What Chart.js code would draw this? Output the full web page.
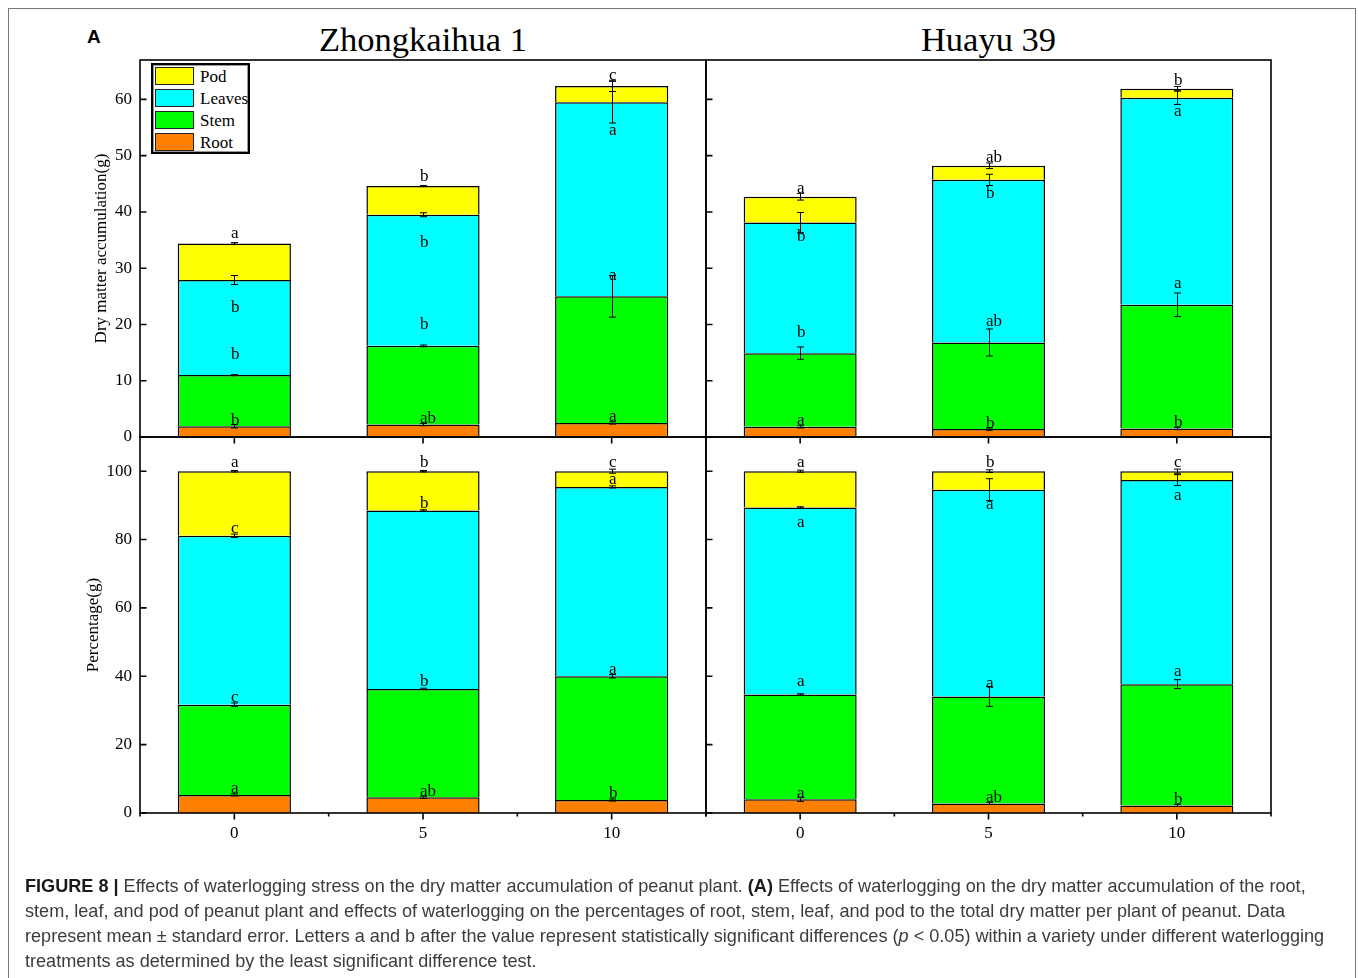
<!DOCTYPE html>
<html>
<head>
<meta charset="utf-8">
<title>Dry matter accumulation of peanut under waterlogging</title>
<script src="https://cdn.jsdelivr.net/npm/chart.js@4.4.1/dist/chart.umd.min.js"></script>
<style>
  html, body { margin: 0; padding: 0; background: #fff; }
  body { position: relative; width: 1358px; height: 978px; overflow: hidden; }
  .frame { position: absolute; left: 8px; top: 8px; width: 1346px; height: 1000px;
           border: 1.5px solid #777; border-bottom: none; }
  canvas.panel { position: absolute; left: 0; top: 0; }
  .tag { position: absolute; left: 87px; top: 26px; font: bold 19px "Liberation Sans", Arial, sans-serif; color: #000; }
  .ptitle { position: absolute; top: 20px; height: 44px; line-height: 44px; text-align: center;
            font: 34.5px "Liberation Serif", "Times New Roman", serif; color: #000; }
  #legend { position: absolute; left: 151px; top: 63px; width: 95px; height: 87px;
            border: 2px solid #000; box-shadow: inset 0 0 0 1px #999; background: #fff; z-index: 5; }
  #legend .row { position: absolute; left: 2px; height: 19px; }
  #legend .sw { position: absolute; left: 0; top: 0; width: 37px; height: 16px; border: 1.5px solid #222; }
  #legend .lb { position: absolute; left: 45px; top: -1px; font: 17px "Liberation Serif", "Times New Roman", serif;
                color: #000; white-space: nowrap; line-height: 22px; }
  .caption { position: absolute; left: 25px; top: 874px; width: 1320px;
             font: 18.1px "Liberation Sans", Arial, sans-serif; line-height: 25px; color: #3c3c3c; white-space: nowrap; }
  .caption b { color: #1a1a1a; }
</style>
</head>
<body>
<div class="frame"></div>
<div class="tag">A</div>
<div class="ptitle" style="left:140px;width:566px;">Zhongkaihua 1</div>
<div class="ptitle" style="left:706px;width:565px;">Huayu 39</div>
<div id="legend"></div>

<canvas class="panel" id="zkDry" width="1358" height="978"></canvas>
<canvas class="panel" id="hyDry" width="1358" height="978"></canvas>
<canvas class="panel" id="zkPct" width="1358" height="978"></canvas>
<canvas class="panel" id="hyPct" width="1358" height="978"></canvas>

<div class="caption">
<b>FIGURE 8 |</b> Effects of waterlogging stress on the dry matter accumulation of peanut plant. <b>(A)</b> Effects of waterlogging on the dry matter accumulation of the root,<br>
stem, leaf, and pod of peanut plant and effects of waterlogging on the percentages of root, stem, leaf, and pod to the total dry matter per plant of peanut. Data<br>
represent mean ± standard error. Letters a and b after the value represent statistically significant differences (<i>p</i> &lt; 0.05) within a variety under different waterlogging<br>
treatments as determined by the least significant difference test.
</div>

<script>
// Waterlogging duration (days) and plant organs, bottom of the stack first
const treatments = ['0', '5', '10'];
const organs = ['Root', 'Stem', 'Leaves', 'Pod'];
const organColors = ['#FF8000', '#00FF00', '#00FFFF', '#FFFF00'];

// Zhongkaihua 1: dry matter accumulation (g per plant)
const zkDryRoot   = [1.9, 2.2, 2.5];
const zkDryStem   = [9.1, 14.0, 22.5];
const zkDryLeaves = [16.9, 23.3, 34.5];
const zkDryPod    = [6.5, 5.1, 2.9];
const zkDryRootSE   = [0.3, 0.2, 0.2];
const zkDryStemSE   = [0.1, 0.15, 3.7];
const zkDryLeavesSE = [0.8, 0.35, 3.7];
const zkDryPodSE    = [0.15, 0.1, 1.0];
const zkDryRootSig   = ['b', 'ab', 'a'];
const zkDryStemSig   = ['b', 'b', 'a'];
const zkDryLeavesSig = ['b', 'b', 'a'];
const zkDryPodSig    = ['a', 'b', 'c'];

// Huayu 39: dry matter accumulation (g per plant)
const hyDryRoot   = [1.8, 1.4, 1.5];
const hyDryStem   = [13.1, 15.4, 22.0];
const hyDryLeaves = [23.2, 28.9, 36.8];
const hyDryPod    = [4.6, 2.5, 1.6];
const hyDryRootSE   = [0.2, 0.2, 0.2];
const hyDryStemSE   = [1.1, 2.4, 2.1];
const hyDryLeavesSE = [1.8, 1.0, 1.2];
const hyDryPodSE    = [0.6, 0.5, 0.4];
const hyDryRootSig   = ['a', 'b', 'b'];
const hyDryStemSig   = ['b', 'ab', 'a'];
const hyDryLeavesSig = ['b', 'b', 'a'];
const hyDryPodSig    = ['a', 'ab', 'b'];

// Zhongkaihua 1: share of total dry matter (%)
const zkPctRoot   = [5.3, 4.6, 3.8];
const zkPctStem   = [26.4, 31.7, 36.2];
const zkPctLeaves = [49.4, 52.2, 55.4];
const zkPctPod    = [18.9, 11.5, 4.6];
const zkPctRootSE   = [0.3, 0.3, 0.3];
const zkPctStemSE   = [0.5, 0.2, 0.5];
const zkPctLeavesSE = [0.5, 0.2, 0.3];
const zkPctPodSE    = [0.2, 0.2, 0.6];
const zkPctRootSig   = ['a', 'ab', 'b'];
const zkPctStemSig   = ['c', 'b', 'a'];
const zkPctLeavesSig = ['c', 'b', 'a'];
const zkPctPodSig    = ['a', 'b', 'c'];

// Huayu 39: share of total dry matter (%)
const hyPctRoot   = [4.0, 2.8, 2.2];
const hyPctStem   = [30.7, 31.3, 35.5];
const hyPctLeaves = [54.7, 60.5, 59.7];
const hyPctPod    = [10.6, 5.4, 2.6];
const hyPctRootSE   = [0.6, 0.3, 0.3];
const hyPctStemSE   = [0.2, 2.9, 1.3];
const hyPctLeavesSE = [0.2, 3.2, 1.6];
const hyPctPodSE    = [0.3, 0.4, 0.6];
const hyPctRootSig   = ['a', 'ab', 'b'];
const hyPctStemSig   = ['a', 'a', 'a'];
const hyPctLeavesSig = ['a', 'a', 'a'];
const hyPctPodSig    = ['a', 'b', 'c'];

const dryTicks = [0, 10, 20, 30, 40, 50, 60];
const pctTicks = [0, 20, 40, 60, 80, 100];

const SERIF = '"Liberation Serif", "Times New Roman", serif';
const W = 1358, H = 978;

// Panel layout: plot rectangles in page pixels, plus where each letter sits relative to its segment top
const panels = [
  { id: 'zkDry', left: 140, right: 706, top: 60, bottom: 437, max: 67, ticks: dryTicks,
    yTitle: 'Dry matter accumulation(g)', titlePad: 31, yLabels: true, xLabels: false,
    values: [zkDryRoot, zkDryStem, zkDryLeaves, zkDryPod],
    se: [zkDryRootSE, zkDryStemSE, zkDryLeavesSE, zkDryPodSE],
    sig: [zkDryRootSig, zkDryStemSig, zkDryLeavesSig, zkDryPodSig],
    letterShift: [-6, -21, 28, -10] },
  { id: 'hyDry', left: 706, right: 1271, top: 60, bottom: 437, max: 67, ticks: dryTicks,
    yTitle: '', titlePad: 0, yLabels: false, xLabels: false,
    values: [hyDryRoot, hyDryStem, hyDryLeaves, hyDryPod],
    se: [hyDryRootSE, hyDryStemSE, hyDryLeavesSE, hyDryPodSE],
    sig: [hyDryRootSig, hyDryStemSig, hyDryLeavesSig, hyDryPodSig],
    letterShift: [-6, -21, 14, -8] },
  { id: 'zkPct', left: 140, right: 706, top: 437, bottom: 813, max: 110, ticks: pctTicks,
    yTitle: 'Percentage(g)', titlePad: 23, yLabels: true, xLabels: true,
    values: [zkPctRoot, zkPctStem, zkPctLeaves, zkPctPod],
    se: [zkPctRootSE, zkPctStemSE, zkPctLeavesSE, zkPctPodSE],
    sig: [zkPctRootSig, zkPctStemSig, zkPctLeavesSig, zkPctPodSig],
    letterShift: [-6, -7, -7, -9] },
  { id: 'hyPct', left: 706, right: 1271, top: 437, bottom: 813, max: 110, ticks: pctTicks,
    yTitle: '', titlePad: 0, yLabels: false, xLabels: true,
    values: [hyPctRoot, hyPctStem, hyPctLeaves, hyPctPod],
    se: [hyPctRootSE, hyPctStemSE, hyPctLeavesSE, hyPctPodSE],
    sig: [hyPctRootSig, hyPctStemSig, hyPctLeavesSig, hyPctPodSig],
    letterShift: [-6, -13, 15, -9] }
];

// Legend, top entry first (Pod ... Root)
(function buildLegend() {
  const box = document.getElementById('legend');
  for (let k = 0; k < organs.length; k++) {
    const i = organs.length - 1 - k;
    const row = document.createElement('div');
    row.className = 'row';
    row.style.top = (2 + k * 22) + 'px';
    const sw = document.createElement('div');
    sw.className = 'sw';
    sw.style.background = organColors[i];
    const lb = document.createElement('div');
    lb.className = 'lb';
    lb.textContent = organs[i];
    row.appendChild(sw);
    row.appendChild(lb);
    box.appendChild(row);
  }
})();

// Error bars, significance letters, frame and tick marks
const decor = {
  id: 'decor',
  afterDatasetsDraw(chart, args, opts) {
    const p = opts.panel;
    const { ctx } = chart;
    const y = chart.scales.y;
    ctx.save();
    ctx.strokeStyle = '#000';
    ctx.fillStyle = '#000';
    ctx.lineWidth = 1;
    ctx.font = '17px ' + SERIF;
    ctx.textAlign = 'left';
    ctx.textBaseline = 'middle';
    for (let j = 0; j < treatments.length; j++) {
      let cum = 0;
      p.values.forEach((vals, i) => {
        cum += vals[j];
        const bx = Math.round(chart.getDatasetMeta(i).data[j].x) + 0.5;
        const yc = y.getPixelForValue(cum);
        const yHi = y.getPixelForValue(cum + p.se[i][j]);
        const yLo = y.getPixelForValue(cum - p.se[i][j]);
        ctx.beginPath();
        ctx.moveTo(bx, yHi); ctx.lineTo(bx, yLo);
        ctx.moveTo(bx - 3.5, yHi); ctx.lineTo(bx + 3.5, yHi);
        ctx.moveTo(bx - 3.5, yLo); ctx.lineTo(bx + 3.5, yLo);
        ctx.stroke();
        ctx.fillText(p.sig[i][j], bx - 3.5, yc + p.letterShift[i]);
      });
    }
    ctx.restore();
  },
  afterDraw(chart, args, opts) {
    const p = opts.panel;
    const { ctx, chartArea: a } = chart;
    const x = chart.scales.x, y = chart.scales.y;
    ctx.save();
    ctx.strokeStyle = '#000';
    ctx.lineWidth = 1.6;
    ctx.strokeRect(a.left, a.top, a.right - a.left, a.bottom - a.top);
    ctx.beginPath();
    // inward ticks on the left edge
    p.ticks.forEach(v => {
      const ty = y.getPixelForValue(v);
      ctx.moveTo(a.left, ty); ctx.lineTo(a.left + 6.5, ty);
    });
    // outward ticks below the plot
    for (let j = 0; j < treatments.length; j++) {
      const tx = x.getPixelForValue(j);
      ctx.moveTo(tx, a.bottom); ctx.lineTo(tx, a.bottom + 6.5);
    }
    if (p.xLabels) {
      for (let j = 0; j <= treatments.length; j++) {
        const tx = x.getPixelForValue(j - 0.5);
        ctx.moveTo(tx, a.bottom); ctx.lineTo(tx, a.bottom + 3.5);
      }
    }
    ctx.stroke();
    ctx.restore();
  }
};

Chart.defaults.font.family = SERIF;
Chart.defaults.color = '#000';

panels.forEach(p => {
  const yWidth = p.yLabels ? 80 : 0;
  const xHeight = p.xLabels ? 30 : 0;
  new Chart(document.getElementById(p.id), {
    type: 'bar',
    data: {
      labels: treatments,
      datasets: organs.map((name, i) => ({
        label: name,
        data: p.values[i],
        backgroundColor: organColors[i],
        borderColor: '#000',
        borderWidth: 1.5,
        categoryPercentage: 1.0,
        barPercentage: 0.6
      }))
    },
    options: {
      responsive: false,
      animation: false,
      events: [],
      layout: {
        padding: {
          left: p.left - yWidth,
          right: W - p.right,
          top: p.top,
          bottom: H - p.bottom - xHeight
        }
      },
      plugins: {
        legend: { display: false },
        tooltip: { enabled: false },
        decor: { panel: p }
      },
      scales: {
        x: {
          stacked: true,
          offset: true,
          grid: { display: false, drawTicks: false, tickLength: 0 },
          border: { display: false },
          ticks: { display: p.xLabels, font: { size: 17, family: SERIF }, color: '#000', padding: 10, maxRotation: 0 },
          afterFit: s => { s.height = xHeight; }
        },
        y: {
          stacked: true,
          min: 0,
          max: p.max,
          grid: { display: false, drawTicks: false, tickLength: 0 },
          border: { display: false },
          ticks: { display: p.yLabels, stepSize: p.ticks[1] - p.ticks[0], font: { size: 17, family: SERIF }, color: '#000', padding: 8 },
          afterBuildTicks: s => { s.ticks = s.ticks.filter(t => p.ticks.includes(t.value)); },
          title: {
            display: !!p.yTitle,
            text: p.yTitle,
            font: { size: 17, family: SERIF },
            color: '#000',
            padding: { top: p.titlePad, bottom: 0 }
          },
          afterFit: s => { s.width = yWidth; }
        }
      }
    },
    plugins: [decor]
  });
});
</script>
</body>
</html>
